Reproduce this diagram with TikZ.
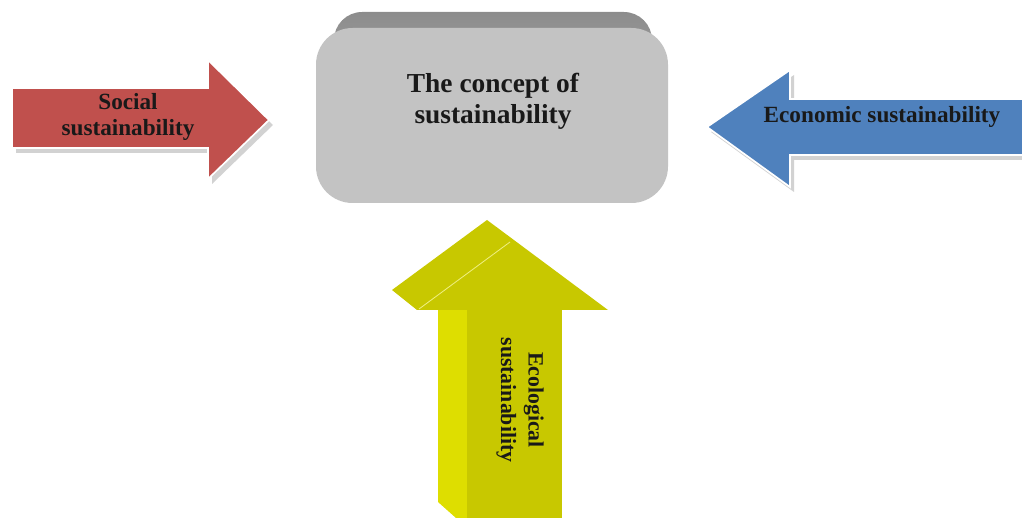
\documentclass[tikz,border=0pt]{standalone}
\usepackage{fontspec}
\setmainfont{Liberation Serif}
\usepackage{tikz}
\usetikzlibrary{positioning}

\definecolor{socialred}{HTML}{C0504D}
\definecolor{econblue}{HTML}{4F81BD}
\definecolor{boxgray}{HTML}{C3C3C3}
\definecolor{bandgray}{HTML}{8C8C8C}
\definecolor{ecofront}{HTML}{C8C800}
\definecolor{ecoside}{HTML}{DEDE00}

\begin{document}
\begin{tikzpicture}[x=0.025cm,y=-0.025cm]
		\tikzstyle{label_style} = [font=\bfseries\fontsize{16.5}{18.5}\selectfont,align=center,text=black!90]
		\tikzstyle{shadow_style} = [fill=gray!35,draw=none]
		\tikzstyle{arrow_style} = [draw=white,line width=1.2pt]
		\useasboundingbox (0,0) rectangle (1022,518);
		% centre box with its top band
		\shade[top color=bandgray,bottom color=bandgray!70!white,rounded corners=20] (334,12) rectangle (652,120);
		\fill[boxgray,rounded corners=26] (316,28) rectangle (668,203);
		\node[label_style,font=\bfseries\fontsize{19.5}{22}\selectfont] (concept) at (493,101) {The concept of\\sustainability};
		% social arrow
		\fill[shadow_style] (16,93) -- (212,93) -- (212,65) -- (273,125) -- (212,184) -- (212,153) -- (16,153) -- cycle;
		\filldraw[arrow_style,fill=socialred] (12,88) -- (208,88) -- (208,60) -- (269,120) -- (208,179) -- (208,148) -- (12,148) -- cycle;
		\node[label_style] (social) at (128,117) {Social\\sustainability};
		% economic arrow
		\fill[shadow_style] (711,132) -- (794,75) -- (794,104) -- (1022,104) -- (1022,160) -- (794,160) -- (794,192) -- cycle;
		\filldraw[arrow_style,fill=econblue] (707,127) -- (790,70) -- (790,99) -- (1024,99) -- (1024,155) -- (790,155) -- (790,187) -- cycle;
		\node[label_style] (economic) at (882,117) {Economic sustainability};
		% ecological arrow
		\fill[ecoside] (438,310) -- (467,310) -- (467,518) -- (456,518) -- (438,502) -- cycle;
		\fill[ecofront] (467,309) rectangle (562,518);
		\fill[ecofront] (392,290) -- (487,220) -- (608,310) -- (417,310) -- cycle;
		\draw[ecoside!50!white,line width=0.6pt] (419,309) -- (510,242);
		\node[label_style,font=\bfseries\fontsize{15.5}{19.5}\selectfont,rotate=-90] (ecological) at (520,400) {Ecological\\sustainability};
\end{tikzpicture}
\end{document}
